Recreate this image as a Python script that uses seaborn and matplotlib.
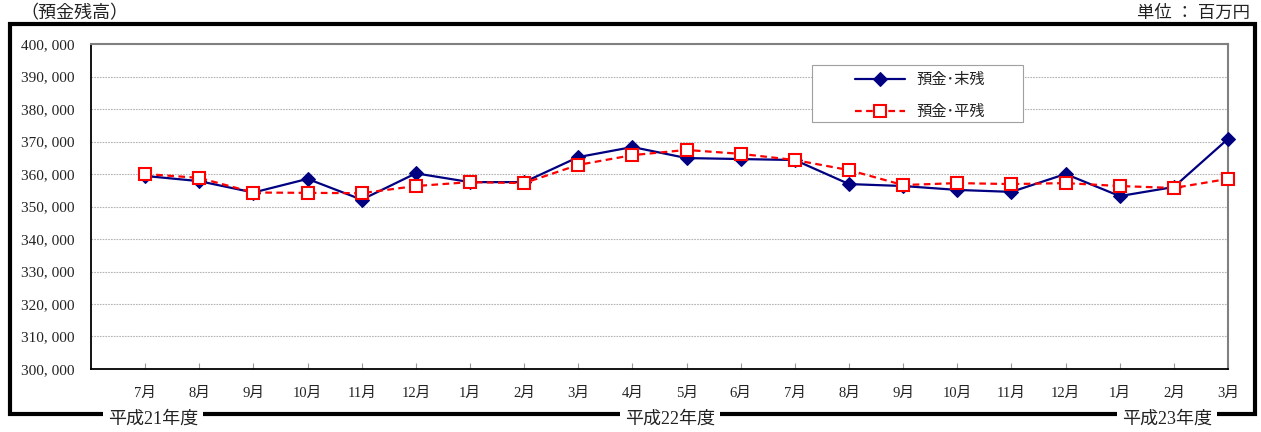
import numpy as np
import pandas as pd
import matplotlib
matplotlib.use("Agg")
import matplotlib.pyplot as plt
from matplotlib.patches import Rectangle
import seaborn as sns

# months from H21/7 to H23/3
months = ["7月", "8月", "9月", "10月", "11月", "12月", "1月", "2月", "3月", "4月", "5月",
          "6月", "7月", "8月", "9月", "10月", "11月", "12月", "1月", "2月", "3月"]
# 預金・末残 (million yen)
end_balance = [359400, 357800, 354300, 358500, 352100, 360200, 357500, 357500, 365200, 368300,
               364900, 364600, 364300, 356900, 356300, 355100, 354500, 360000, 353200, 356000,
               370800]
# 預金・平残 (million yen)
avg_balance = [360000, 358800, 354300, 354200, 354100, 356300, 357500, 357200, 362800, 365800,
               367400, 366200, 364300, 361200, 356600, 357200, 356900, 357200, 356300, 355700,
               358500]
year_labels = ["平成21年度", "平成22年度", "平成23年度"]
year_label_x = [153, 670, 1167]  # pixel centres along the bottom frame line
y_ticks = list(range(300000, 400001, 10000))

sns.set_theme(style="white")
plt.rcParams["font.family"] = ["Liberation Serif", "Noto Sans CJK JP", "DejaVu Sans"]

W, H = 1261, 432
AX_L, AX_R, AX_T, AX_B = 91, 1228, 44, 369
fig = plt.figure(figsize=(W / 100, H / 100), dpi=100)
ax = fig.add_axes([AX_L / W, 1 - AX_B / H, (AX_R - AX_L) / W, (AX_B - AX_T) / H])


def ax_frac(px, py):
    # pixel position -> axes fraction
    return (px - AX_L) / (AX_R - AX_L), 1 - (py - AX_T) / (AX_B - AX_T)


df = pd.DataFrame({"pos": np.arange(len(months)), "end": end_balance, "avg": avg_balance})

sns.lineplot(data=df, x="pos", y="end", ax=ax, color="#000080", lw=1.6,
             marker="D", markersize=7.5, markeredgecolor="#000080", markerfacecolor="#000080",
             label="預金･末残", zorder=3, clip_on=False)
sns.lineplot(data=df, x="pos", y="avg", ax=ax, color="#ff0000", lw=1.6,
             marker="s", markersize=9, markeredgecolor="#ff0000", markerfacecolor="white",
             markeredgewidth=1.5, label="預金･平残", zorder=4, clip_on=False)
ax.lines[1].set_linestyle((0, (3, 2)))

ax.set_xlim(-1, len(months) - 1)
ax.set_ylim(300000, 400000)
ax.set_yticks(y_ticks)
ax.set_yticklabels([f"{v // 1000}, {v % 1000:03d}" for v in y_ticks])
ax.set_xticks(df["pos"])
ax.set_xticklabels(months)
ax.set_xlabel("")
ax.set_ylabel("")

ax.tick_params(axis="y", length=0, pad=12, labelsize=11, colors="#222222")
ax.tick_params(axis="x", direction="in", length=4, width=0.8, color="#999999",
               pad=13, labelsize=10.5, labelcolor="#222222", bottom=True)

ax.yaxis.grid(True, color="#b4b4b4", lw=0.8, ls=(0, (1.5, 1)))
ax.set_axisbelow(True)

for side in ["left", "bottom"]:
    ax.spines[side].set_color("black")
    ax.spines[side].set_linewidth(1.3)
for side in ["top", "right"]:
    ax.spines[side].set_color("#808080")
    ax.spines[side].set_linewidth(1.5)

# legend box drawn separately so the padding can match
bx0, by1 = ax_frac(812, 65)
bx1, by0 = ax_frac(1023, 122)
ax.add_patch(Rectangle((bx0, by0), bx1 - bx0, by1 - by0, transform=ax.transAxes,
                       fc="white", ec="#a0a0a0", lw=0.8, zorder=5))
leg = ax.legend(loc="upper left", bbox_to_anchor=ax_frac(855, 73), frameon=False, fontsize=11,
                handlelength=3.3, borderpad=0, labelspacing=1.15, handletextpad=0.7,
                borderaxespad=0)
leg.set_zorder(6)
for t in leg.get_texts():
    t.set_color("#222222")

# outer thick frame
fig.add_artist(Rectangle((10 / W, 1 - 414 / H), (1255 - 10) / W, (414 - 24) / H,
                         transform=fig.transFigure, fill=False, lw=3, ec="black", zorder=1))

fig.text(20 / W, 1 - 14 / H, "（預金残高）", ha="left", va="center", fontsize=13, color="#222222")
fig.text(1250 / W, 1 - 14 / H, "単位 ： 百万円", ha="right", va="center", fontsize=12.5,
         color="#222222")

for label, px in zip(year_labels, year_label_x):
    fig.text(px / W, 1 - 419 / H, label, ha="center", va="center", fontsize=13, color="#222222",
             bbox=dict(boxstyle="square,pad=0.3", fc="white", ec="none"), zorder=5)

fig.savefig("out.png", dpi=100)
